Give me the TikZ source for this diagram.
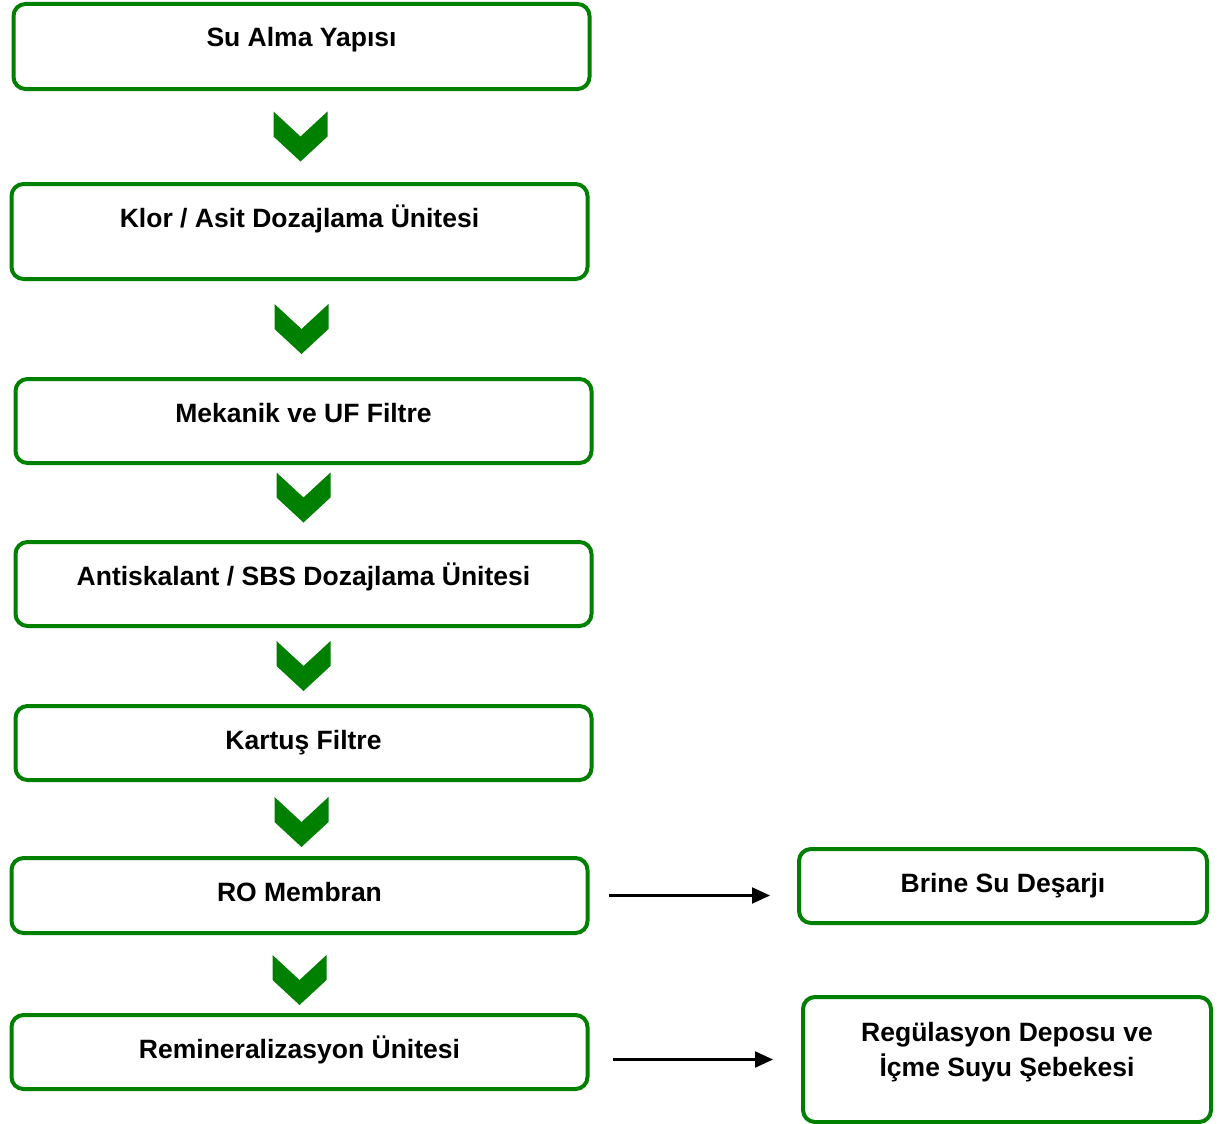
\documentclass[tikz,border=0pt]{standalone}
\usepackage{fontspec}
\setmainfont{Liberation Sans}
\usetikzlibrary{arrows.meta}
\definecolor{flowgreen}{RGB}{0,128,0}

\def\boxwidth{576pt}

\begin{document}
\begin{tikzpicture}[x=1pt,y=-1pt,font=\bfseries\fontsize{26.5}{35}\selectfont]
\tikzstyle{box}=[draw=flowgreen,line width=4pt,rounded corners=12pt,
  minimum width=\boxwidth,inner ysep=0pt,text height=43pt,align=center]
\tikzstyle{side box}=[box,minimum width=408pt]
\tikzstyle{flow}=[-{Triangle[length=18pt,width=16pt]},line width=2.2pt]
\tikzset{chevron/.pic={
  \fill[flowgreen] (-27,-25) -- (0,0) -- (27,-25) -- (27,0) -- (0,25) -- (-27,0) -- cycle;}}

\useasboundingbox (0,0) rectangle (1226,1124);

% Draw the main process steps
\node[box,text depth=42pt] (alma) at (301.5,46.5) {Su Alma Yapısı};
\node[box,text depth=52pt] (klor) at (299.5,231.5) {Klor / Asit Dozajlama Ünitesi};
\node[box,text depth=41pt] (mekanik) at (303.5,421) {Mekanik ve UF Filtre};
\node[box,text depth=41pt] (anti) at (303.5,584) {Antiskalant / SBS Dozajlama Ünitesi};
\node[box,text depth=31pt] (kartus) at (303.5,743) {Kartuş Filtre};
\node[box,text depth=32pt] (ro) at (299.5,895.5) {RO Membran};
\node[box,text depth=31pt] (remin) at (299.5,1052) {Remineralizasyon Ünitesi};

% Draw the outlets on the right
\node[side box,text depth=31pt] (brine) at (1003,886) {Brine Su Deşarjı};
\node[side box,text height=79pt,text depth=46pt] (regul) at (1007,1059.5) {Regülasyon Deposu ve\\İçme Suyu Şebekesi};

% Chevrons between consecutive steps
\foreach \a/\b/\dy in {alma/klor/0,klor/mekanik/0,mekanik/anti/-5,anti/kartus/0,kartus/ro/3,ro/remin/6}{
  \path (\a.south) -- (\b.north) coordinate[midway,yshift=-\dy pt] (m-\a);
  \pic at (m-\a) {chevron};
}

% Side arrows
\draw[flow,shorten <=19pt,shorten >=27pt] (ro.east) -- (ro.east -| brine.west);
\draw[flow,shorten <=23pt,shorten >=28pt] (remin.east |- regul.west) -- (regul.west);
\end{tikzpicture}
\end{document}
